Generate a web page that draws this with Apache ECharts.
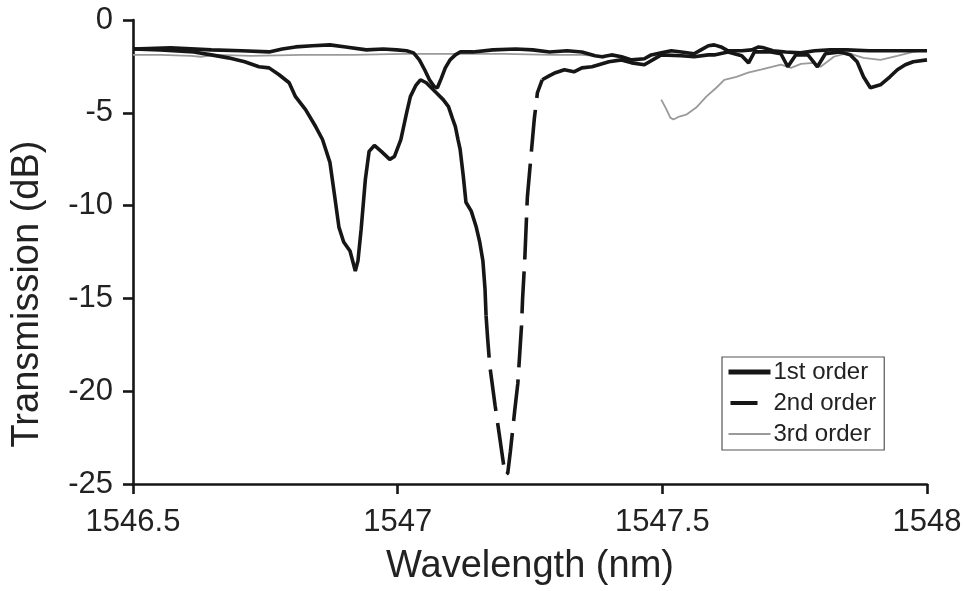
<!DOCTYPE html>
<html>
<head>
<meta charset="utf-8">
<title>Transmission spectra</title>
<script src="https://cdn.jsdelivr.net/npm/echarts@6/dist/echarts.min.js"></script>
<style>
  html, body { margin: 0; padding: 0; background: #ffffff; }
  #chart { width: 966px; height: 591px; }
</style>
</head>
<body>
<div id="chart"></div>
<script>
// Wavelength axis ticks (nm) and transmission axis ticks (dB)
const xTicks = [1546.5, 1547, 1547.5, 1548];
const yTicks = [-25, -20, -15, -10, -5, 0];

const seriesNames = ['1st order', '2nd order', '3rd order'];

// 1st order transmission
const wl1 = [1546.500, 1546.571, 1546.648, 1546.705, 1546.757, 1546.782, 1546.807, 1546.839, 1546.872, 1546.902,
  1546.941, 1546.973, 1546.998, 1547.017, 1547.030, 1547.041, 1547.051, 1547.060, 1547.069, 1547.075,
  1547.082, 1547.090, 1547.099, 1547.109, 1547.118, 1547.142, 1547.180, 1547.223, 1547.255, 1547.287,
  1547.320, 1547.348, 1547.373, 1547.386, 1547.404, 1547.423, 1547.442, 1547.466, 1547.479, 1547.498,
  1547.517, 1547.536, 1547.560, 1547.573, 1547.587, 1547.598, 1547.611, 1547.624, 1547.650, 1547.669,
  1547.682, 1547.692, 1547.709, 1547.733, 1547.761, 1547.788, 1547.817, 1547.848, 1547.891, 1547.947, 1548.000];
const t1 = [-1.56, -1.50, -1.61, -1.66, -1.72, -1.56, -1.45, -1.39, -1.34, -1.45,
  -1.61, -1.56, -1.61, -1.66, -1.77, -2.15, -2.68, -3.22, -3.59, -3.65,
  -3.17, -2.58, -2.15, -1.88, -1.72, -1.72, -1.61, -1.56, -1.61, -1.72,
  -1.66, -1.72, -1.93, -1.98, -1.88, -1.98, -2.15, -2.09, -1.88, -1.77,
  -1.66, -1.72, -1.82, -1.61, -1.39, -1.34, -1.45, -1.66, -1.66, -1.61,
  -1.45, -1.50, -1.66, -1.72, -1.77, -1.66, -1.61, -1.61, -1.66, -1.66, -1.66];

// 2nd order transmission
const wl2 = [1546.500, 1546.552, 1546.615, 1546.648, 1546.680, 1546.711, 1546.738, 1546.757, 1546.776, 1546.795,
  1546.807, 1546.826, 1546.845, 1546.858, 1546.872, 1546.881, 1546.889, 1546.898, 1546.910, 1546.920,
  1546.925, 1546.931, 1546.939, 1546.946, 1546.956, 1546.969, 1546.985, 1546.994, 1547.006, 1547.017,
  1547.024, 1547.034, 1547.043, 1547.054, 1547.073, 1547.086, 1547.096, 1547.103, 1547.109, 1547.114,
  1547.118, 1547.124, 1547.129, 1547.139, 1547.148, 1547.155, 1547.161, 1547.165, 1547.167, 1547.170,
  1547.174, 1547.184, 1547.193, 1547.200, 1547.204, 1547.208, 1547.213, 1547.221, 1547.227, 1547.230,
  1547.234, 1547.236, 1547.240, 1547.245, 1547.253, 1547.258, 1547.264, 1547.273, 1547.287, 1547.298,
  1547.315, 1547.333, 1547.348, 1547.367, 1547.380, 1547.399, 1547.423, 1547.442, 1547.466, 1547.498,
  1547.536, 1547.560, 1547.587, 1547.598, 1547.624, 1547.650, 1547.663, 1547.674, 1547.705, 1547.724,
  1547.737, 1547.752, 1547.775, 1547.793, 1547.808, 1547.836, 1547.855, 1547.868, 1547.880, 1547.893,
  1547.912, 1547.930, 1547.944, 1547.959, 1547.974, 1548.000];
const t2 = [-1.56, -1.61, -1.72, -1.88, -2.04, -2.25, -2.52, -2.58, -2.95, -3.38,
  -4.13, -4.83, -5.74, -6.44, -7.67, -9.50, -11.16, -11.96, -12.45, -13.52,
  -12.98, -11.27, -8.58, -7.08, -6.76, -7.08, -7.51, -7.35, -6.44, -4.99,
  -4.13, -3.54, -3.22, -3.38, -3.92, -4.29, -4.67, -5.26, -5.74, -6.44,
  -6.97, -8.42, -9.82, -10.30, -11.11, -11.96, -12.98, -14.48, -15.93, -17.17,
  -18.62, -20.76, -22.53, -23.93, -24.52, -24.41, -23.23, -21.08, -19.58, -18.24,
  -16.47, -15.02, -12.98, -9.55, -6.97, -5.36, -3.92, -3.22, -3.00, -2.84,
  -2.68, -2.79, -2.58, -2.52, -2.41, -2.25, -2.15, -2.31, -2.41, -1.88,
  -1.93, -1.98, -1.88, -1.88, -1.72, -1.93, -2.31, -1.72, -1.72, -1.82,
  -2.52, -1.88, -1.88, -2.52, -1.82, -1.72, -1.88, -2.25, -3.06, -3.65,
  -3.49, -3.06, -2.68, -2.41, -2.25, -2.15];

// 3rd order transmission (null = no recorded data)
const wl3 = [1546.500, 1546.552, 1546.609, 1546.628, 1546.657, 1546.724, 1546.820, 1546.916, 1547.011, 1547.105,
  1547.199, 1547.292, 1547.348, 1547.373, 1547.391, 1547.450, 1547.498, 1547.508, 1547.515, 1547.521,
  1547.532, 1547.545, 1547.564, 1547.583, 1547.602, 1547.617, 1547.640, 1547.662, 1547.686, 1547.724,
  1547.743, 1547.762, 1547.786, 1547.799, 1547.824, 1547.850, 1547.880, 1547.912, 1547.944, 1547.974, 1548.000];
const t3 = [-1.88, -1.88, -1.93, -1.98, -1.88, -1.93, -1.88, -1.88, -1.82, -1.82,
  -1.82, -1.88, -1.88, -1.93, -2.04, null, -4.29, -4.83, -5.26, -5.36,
  -5.20, -5.10, -4.72, -4.13, -3.65, -3.22, -3.06, -2.84, -2.68, -2.41,
  -2.58, -2.36, -2.31, -2.52, -1.98, -1.77, -2.04, -2.15, -1.93, -1.72, -1.61];

// The steep walls of the deep 2nd-order notch are drawn with long dashes
const dashFrom = 1547.167;
const dashTo = 1547.273;

const pairs = (wl, t) => wl.map((w, i) => [w, t[i] === null ? '-' : t[i]]);
const solid2 = wl2.map((w, i) => (w <= dashFrom || w >= dashTo) ? [w, t2[i]] : [w, '-']);
const dashed2 = wl2.map((w, i) => (w >= dashFrom && w <= dashTo) ? [w, t2[i]] : [w, '-']);

const FONT = '"Liberation Sans", Arial, Helvetica, sans-serif';
const INK = '#161616';
const GREY = '#9a9a9a';

const chart = echarts.init(document.getElementById('chart'), null, { renderer: 'canvas' });

const lineBase = {
  type: 'line',
  showSymbol: false,
  symbol: 'none',
  smooth: false,
  connectNulls: false,
  animation: false,
  sampling: null,
  emphasis: { disabled: true }
};

chart.setOption({
  backgroundColor: '#ffffff',
  animation: false,
  grid: { left: 133, right: 39, top: 20, bottom: 105, containLabel: false },
  legend: {
    orient: 'vertical',
    left: 722,
    top: 357,
    padding: [3, 8, 4, 4],
    itemGap: 7,
    itemWidth: 42,
    itemHeight: 14,
    backgroundColor: '#ffffff',
    borderColor: '#555555',
    borderWidth: 1.2,
    borderRadius: 0,
    itemStyle: { opacity: 0 },
    data: [
      { name: seriesNames[0], lineStyle: { color: INK, width: 5 } },
      { name: seriesNames[1], lineStyle: { color: INK, width: 4, type: [0, 2, 27, 30] } },
      { name: seriesNames[2], lineStyle: { color: GREY, width: 2 } }
    ],
    textStyle: { fontFamily: FONT, fontSize: 24, color: '#222222', lineHeight: 24, padding: [0, 0, 0, -2] }
  },
  xAxis: {
    type: 'value',
    min: xTicks[0],
    max: xTicks[xTicks.length - 1],
    interval: 0.5,
    name: 'Wavelength (nm)',
    nameLocation: 'middle',
    nameGap: 64,
    nameTextStyle: { fontFamily: FONT, fontSize: 38, color: '#222222' },
    axisLine: { show: true, onZero: false, lineStyle: { color: INK, width: 2.6 } },
    axisTick: { show: true, inside: false, length: 10, lineStyle: { color: INK, width: 2.6 } },
    axisLabel: {
      margin: 23,
      fontFamily: FONT, fontSize: 31, color: '#222222',
      formatter: v => String(v)
    },
    splitLine: { show: false }
  },
  yAxis: {
    type: 'value',
    min: yTicks[0],
    max: yTicks[yTicks.length - 1],
    interval: 5,
    name: 'Transmission (dB)',
    nameLocation: 'middle',
    nameGap: 86,
    nameRotate: 90,
    nameTextStyle: { fontFamily: FONT, fontSize: 38, color: '#222222', padding: [0, 84, 0, 0] },
    axisLine: { show: true, onZero: false, lineStyle: { color: INK, width: 2.6 } },
    axisTick: { show: true, inside: false, length: 10, lineStyle: { color: INK, width: 2.6 } },
    axisLabel: { margin: 20, fontFamily: FONT, fontSize: 31, color: '#222222' },
    splitLine: { show: false }
  },
  series: [
    Object.assign({}, lineBase, {
      name: seriesNames[2],
      data: pairs(wl3, t3),
      z: 2,
      lineStyle: { color: GREY, width: 1.8 },
      itemStyle: { color: GREY }
    }),
    Object.assign({}, lineBase, {
      name: seriesNames[1],
      data: dashed2,
      z: 3,
      lineStyle: { color: INK, width: 3.6, type: [42, 12], cap: 'butt' },
      itemStyle: { color: INK }
    }),
    Object.assign({}, lineBase, {
      name: seriesNames[1],
      data: solid2,
      z: 3,
      lineStyle: { color: INK, width: 3.6 },
      itemStyle: { color: INK }
    }),
    Object.assign({}, lineBase, {
      name: seriesNames[0],
      data: pairs(wl1, t1),
      z: 4,
      lineStyle: { color: INK, width: 3.6 },
      itemStyle: { color: INK }
    })
  ]
});
</script>
</body>
</html>
